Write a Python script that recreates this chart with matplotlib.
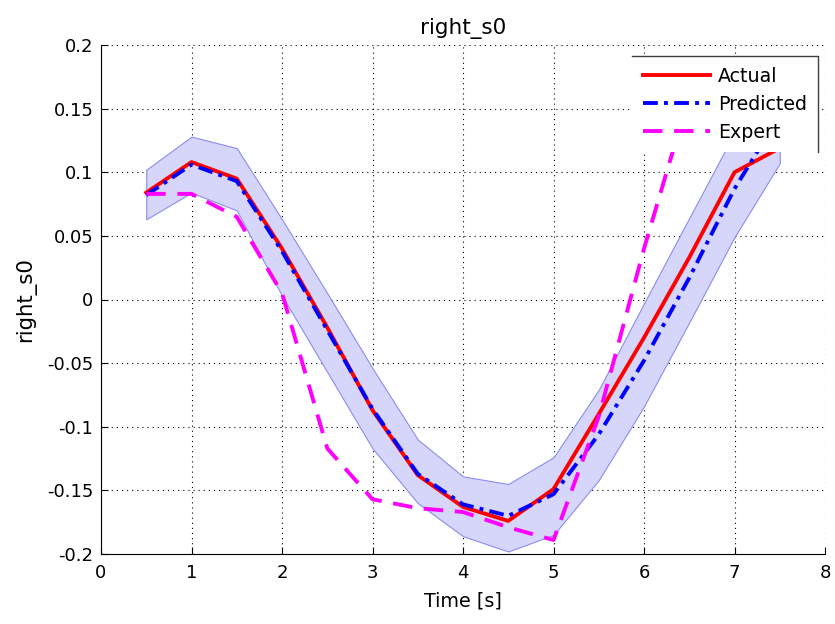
import matplotlib
matplotlib.use("Agg")
import matplotlib.pyplot as plt
from matplotlib.lines import Line2D

plt.rcParams['font.family'] = ['DejaVu Sans']
plt.rcParams['axes.unicode_minus'] = False

# data
t = [0.5, 1.0, 1.5, 2.0, 2.5, 3.0, 3.5, 4.0, 4.5, 5.0, 5.5, 6.0, 6.5, 7.0, 7.5]
actual = [0.084, 0.108, 0.095, 0.040, -0.022, -0.087, -0.138, -0.163, -0.174,
          -0.149, -0.090, -0.030, 0.033, 0.100, 0.119]
predicted = [0.082, 0.106, 0.093, 0.038, -0.024, -0.086, -0.137, -0.161, -0.170,
             -0.153, -0.106, -0.048, 0.017, 0.087, 0.145]
band_upper = [0.102, 0.128, 0.119, 0.063, 0.005, -0.054, -0.110, -0.139, -0.145,
              -0.124, -0.071, -0.003, 0.064, 0.131, 0.180]
band_lower = [0.063, 0.084, 0.070, 0.003, -0.057, -0.117, -0.160, -0.186, -0.198,
              -0.185, -0.142, -0.084, -0.018, 0.049, 0.107]
expert = [0.083, 0.083, 0.065, 0.005, -0.117, -0.157, -0.164, -0.167, -0.179,
          -0.189, -0.092, 0.040, 0.160, 0.180, 0.185]

xticks = [0, 1, 2, 3, 4, 5, 6, 7, 8]
yticks = [-0.2, -0.15, -0.1, -0.05, 0, 0.05, 0.1, 0.15, 0.2]
ytick_labels = ['-0.2', '-0.15', '-0.1', '-0.05', '0', '0.05', '0.1', '0.15', '0.2']

fig = plt.figure(figsize=(8.35, 6.24), dpi=100)
ax = fig.add_axes([101/835, 1 - 554/624, 724/835, 509/624])

ax.fill_between(t, band_lower, band_upper, facecolor='#d6d6fb',
                edgecolor='#8c8cf0', linewidth=0.8, zorder=1)
ax.plot(t, actual, color='#ff0000', lw=2.8, label='Actual', zorder=3)
ax.plot(t, predicted, color='#0000ff', lw=2.8, linestyle=(0, (3.8, 1.6, 1.0, 1.6)),
        label='Predicted', zorder=4)
ax.plot(t, expert, color='#ff00ff', lw=2.8, linestyle=(0, (5, 3)),
        label='Expert', zorder=5)

ax.set_xlim(0, 8)
ax.set_ylim(-0.2, 0.2)
ax.set_xticks(xticks)
ax.set_yticks(yticks)
ax.set_yticklabels(ytick_labels)
ax.tick_params(direction='in', length=5, width=0.8, labelsize=13)
ax.tick_params(axis='x', pad=7.5)
ax.tick_params(axis='y', pad=5.5)

ax.grid(True, color='black', linestyle=(0, (1, 3.6)), linewidth=0.8)
ax.set_axisbelow(True)
ax.spines['top'].set_visible(False)
ax.spines['right'].set_visible(False)
for s in ['left', 'bottom']:
    ax.spines[s].set_linewidth(0.8)

ax.set_title('right_s0', pad=8, fontsize=15.5)
ax.set_xlabel('Time [s]', labelpad=6.5, fontsize=13.8)
ax.set_ylabel('right_s0', labelpad=8, fontsize=15.3)

leg = ax.legend(loc='upper right', bbox_to_anchor=(0.99, 0.978), borderaxespad=0,
                fontsize=13.7, handlelength=3.55, handletextpad=0.42, labelspacing=0.48,
                fancybox=False, framealpha=1, edgecolor='none', borderpad=0.55)
leg.set_zorder(10)

# legend frame shows only top and right edges in the reference
fig.canvas.draw()
bb = leg.get_window_extent().transformed(fig.transFigure.inverted())
fig.add_artist(Line2D([bb.x0, bb.x1, bb.x1], [bb.y1, bb.y1, bb.y0],
                      color='#404040', lw=1.0, zorder=11))

fig.savefig('out.png', dpi=100)
